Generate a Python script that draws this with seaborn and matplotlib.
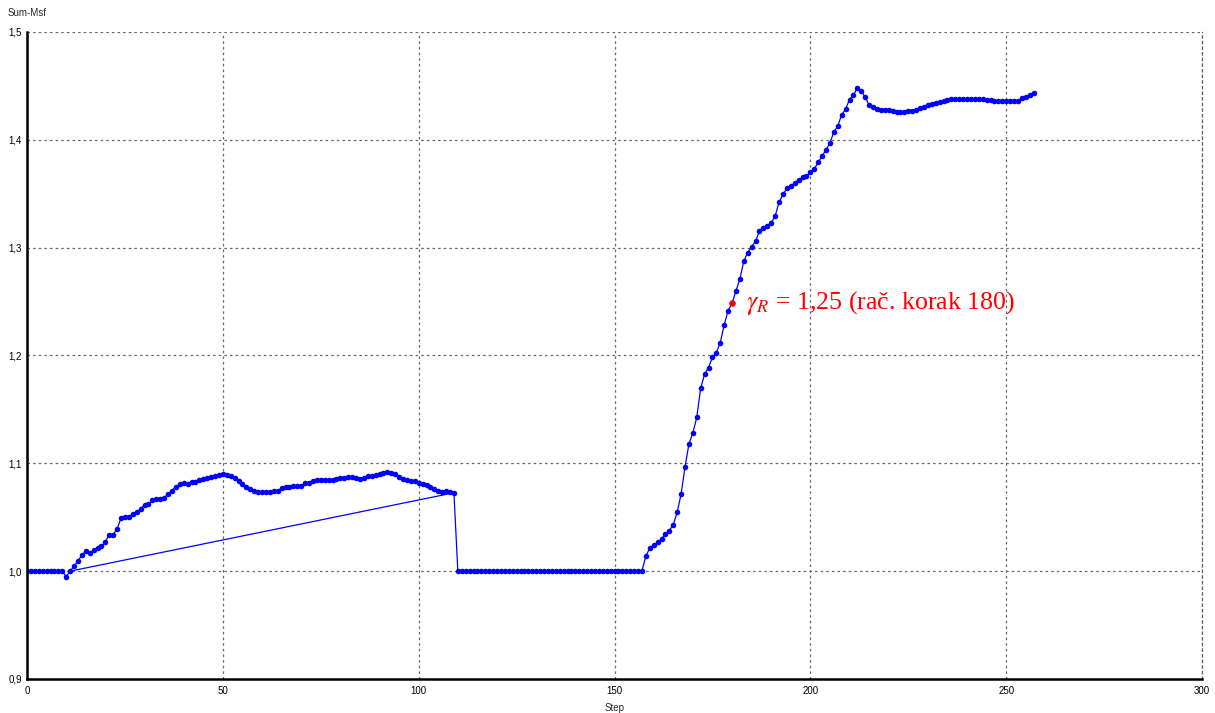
import numpy as np
import pandas as pd
import matplotlib
matplotlib.use("Agg")
import matplotlib.pyplot as plt
import seaborn as sns

# ---- data ----
flat_start = [1.0] * 10                      # steps 0..9
early = [0.9948, 1.0,                          # steps 10, 11
         1.0046, 1.0096, 1.0146, 1.0186, 1.0164, 1.0192, 1.0213, 1.0229, 1.0272, 1.034,
         1.034, 1.0392, 1.0489, 1.0498, 1.0504, 1.053, 1.0545, 1.0578, 1.0615, 1.0624,
         1.0656, 1.067, 1.067, 1.0683, 1.0714, 1.0748, 1.0782, 1.0807, 1.0813, 1.0804,
         1.0825, 1.0825, 1.0844, 1.0853, 1.0863, 1.0875, 1.0887, 1.0896]
hump = [1.09, 1.0894, 1.0885, 1.086, 1.0838, 1.0807, 1.0782, 1.0758, 1.0742, 1.0736,
        1.0733, 1.0733, 1.0736, 1.0742, 1.0748, 1.0767, 1.0776, 1.0776, 1.0786, 1.0789,
        1.0792, 1.0813, 1.0822, 1.0835, 1.0841, 1.0847, 1.0847, 1.0847, 1.0841, 1.0853,
        1.086, 1.086, 1.0869, 1.0869, 1.0863, 1.0856, 1.086, 1.0878, 1.0881, 1.089,
        1.09, 1.0909, 1.0916, 1.0906, 1.0897, 1.0875, 1.0853, 1.0844, 1.0838, 1.0832,
        1.0813, 1.0807, 1.0798, 1.0782, 1.076, 1.0745, 1.0733, 1.0739, 1.0736, 1.0727]
flat_mid = [1.0] * 48                        # steps 110..157
rise = [1.014, 1.0213, 1.0241, 1.0266, 1.0297, 1.0346, 1.0377, 1.043, 1.0545, 1.0714,
        1.0965, 1.118, 1.128, 1.1426, 1.1696, 1.1828, 1.1887, 1.1983, 1.2026, 1.2119,
        1.2283, 1.2416, 1.2484, 1.2598, 1.2708, 1.2872, 1.2955, 1.3008, 1.306, 1.3153,
        1.3184, 1.32, 1.323, 1.3292, 1.3419, 1.3494, 1.3549, 1.357, 1.3598, 1.3632,
        1.3651, 1.366, 1.37, 1.373, 1.3792, 1.3848, 1.3907, 1.3969, 1.4074, 1.4127,
        1.4232, 1.4284, 1.4374, 1.4417, 1.4479, 1.4456, 1.4393, 1.4325, 1.43, 1.4284,
        1.4279, 1.4276, 1.4273, 1.4267, 1.426, 1.4255, 1.426, 1.4264, 1.427, 1.4279,
        1.4295, 1.4307, 1.432, 1.4332, 1.4341, 1.4353, 1.4363, 1.4369, 1.4375, 1.4381,
        1.4381, 1.4381, 1.4378, 1.4375, 1.4381, 1.4378, 1.4375, 1.4372, 1.4366, 1.436,
        1.436, 1.436, 1.436, 1.436, 1.436, 1.436, 1.4388, 1.4394, 1.4412, 1.4434]

values = flat_start + early + hump + flat_mid + rise
steps = list(range(len(values)))

# extra straight segment (step 11 -> step 109)
seg_steps = [11, 109]
seg_values = [1.0, 1.0727]

# highlighted point
red_step = [180]
red_value = [1.2484]
annot_text = r"$\gamma_R$ = 1,25 (rač. korak 180)"

x_ticks = [0, 50, 100, 150, 200, 250, 300]
y_ticks = [0.9, 1.0, 1.1, 1.2, 1.3, 1.4, 1.5]
y_ticklabels = ["0,9", "1,0", "1,1", "1,2", "1,3", "1,4", "1,5"]

df = pd.DataFrame({"Step": steps, "Sum-Msf": values})
seg = pd.DataFrame({"Step": seg_steps, "Sum-Msf": seg_values})
red = pd.DataFrame({"Step": red_step, "Sum-Msf": red_value})

sns.set_style("white")
plt.rcParams["font.family"] = ["Liberation Sans", "DejaVu Sans"]
plt.rcParams["mathtext.fontset"] = "stix"

fig = plt.figure(figsize=(12.15, 7.13), dpi=100)
ax = fig.add_axes([27 / 1215, 1 - 679 / 713, (1202 - 27) / 1215, (679 - 32) / 713])

blue = "#0000ff"
sns.lineplot(data=seg, x="Step", y="Sum-Msf", ax=ax, color=blue, lw=0.9, sort=False)
sns.lineplot(data=df, x="Step", y="Sum-Msf", ax=ax, color=blue, lw=0.9, sort=False,
             marker="o", markersize=4.0, markeredgewidth=0, markerfacecolor=blue)
sns.scatterplot(data=red, x="Step", y="Sum-Msf", ax=ax, color="red", s=22,
                linewidth=0, zorder=5)

ax.text(red_step[0] + 3.5, red_value[0], annot_text, color="red", fontsize=18.6,
        family=["Liberation Serif"], va="center", ha="left")

ax.set_xlim(0, 300)
ax.set_ylim(0.9, 1.5)
ax.set_xticks(x_ticks)
ax.set_xticklabels([str(t) for t in x_ticks])
ax.set_yticks(y_ticks)
ax.set_yticklabels(y_ticklabels)
grid_style = dict(color="#666666", linestyle=(0, (2, 2.5)), linewidth=0.9)
ax.grid(True, **grid_style)
ax.set_axisbelow(True)

ax.spines["top"].set_visible(False)
ax.spines["right"].set_visible(True)
ax.spines["right"].set_color("#666666")
ax.spines["right"].set_linestyle((0, (2, 2.5)))
ax.spines["right"].set_linewidth(0.9)
for s in ["left", "bottom"]:
    ax.spines[s].set_color("black")
    ax.spines[s].set_linewidth(1.8)
    ax.spines[s].set_zorder(6)

ax.tick_params(axis="both", direction="inout", length=6, width=0.9,
               labelsize=7, colors="black", pad=1)
ax.tick_params(axis="x", pad=2)
ax.tick_params(axis="y", pad=0.5)
ax.tick_params(right=False, top=False)

ax.set_xlabel("Step", fontsize=7, labelpad=5)
ax.set_ylabel("")
fig.text(8 / 1215, 1 - 13 / 713, "Sum-Msf", fontsize=7, ha="left", va="center")

fig.savefig("out.png", dpi=100)
